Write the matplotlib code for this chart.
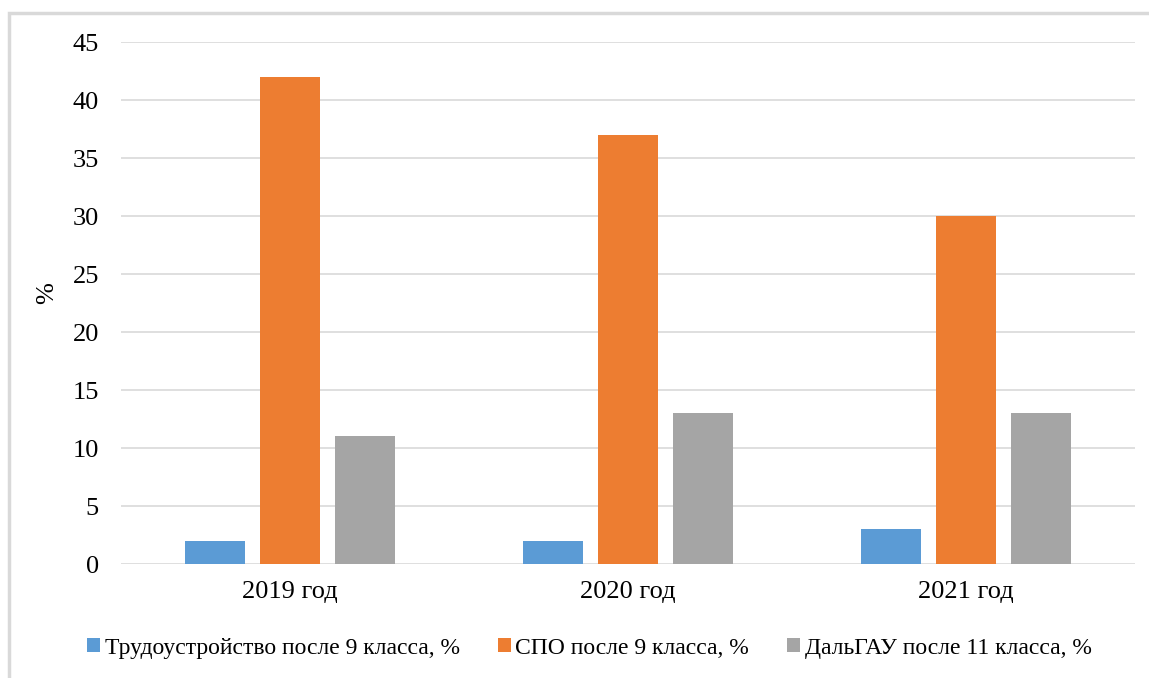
import matplotlib
matplotlib.use("Agg")
import matplotlib.pyplot as plt
import numpy as np

plt.rcParams['font.family'] = ['Liberation Serif', 'DejaVu Serif']

years = ['2019 год', '2020 год', '2021 год']
employment = [2, 2, 3]
spo = [42, 37, 30]
dalgau = [11, 13, 13]
labels = ['Трудоустройство после 9 класса, %',
          'СПО после 9 класса, %',
          'ДальГАУ после 11 класса, %']
colors = ['#5B9BD5', '#ED7D31', '#A5A5A5']

fig = plt.figure(figsize=(11.49, 6.78), dpi=100)
ax = fig.add_axes([0.1053, 0.1681, 0.8825, 0.7699])

# outer frame of the chart (runs off the right and bottom edges)
fig.patches.append(plt.Rectangle((0.0078, -0.05), 1.1, 1.031, transform=fig.transFigure,
                                 fill=False, edgecolor='#d9d9d9', linewidth=2.5))

x = np.arange(len(years))
barWidth = 0.175
step = 0.222
series = [employment, spo, dalgau]
for i, vals in enumerate(series):
    ax.bar(x + (i - 1) * step, vals, width=barWidth, color=colors[i], label=labels[i], zorder=3)

ax.set_xlim(-0.5, 2.5)
ax.set_ylim(0, 45)
ax.set_yticks(range(0, 46, 5))
ax.set_xticks(x)
ax.set_xticklabels(years)
ax.tick_params(axis='both', length=0, labelsize=19)
ax.tick_params(axis='y', pad=16)
ax.tick_params(axis='x', pad=12)
ax.grid(axis='y', color='#d9d9d9', linewidth=1.2, zorder=0)
for s in ax.spines.values():
    s.set_visible(False)

ax.set_ylabel('%', fontsize=19)
ax.yaxis.set_label_coords(-0.062, 0.52)

fig.legend(loc='center', bbox_to_anchor=(0.513, 0.044), ncol=3, frameon=False,
           fontsize=17, handlelength=0.55, handleheight=0.55, handletextpad=0.2, columnspacing=1.6)

plt.savefig('out.png', dpi=100)
